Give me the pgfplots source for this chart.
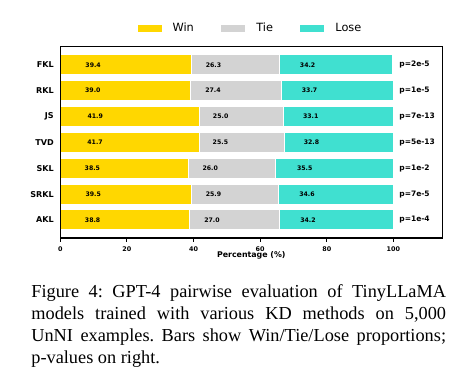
\documentclass[border=0pt]{standalone}
\usepackage{fontspec}
\setmainfont{Liberation Serif}
\newfontfamily\dejavu{DejaVu Sans}
\usepackage{pgfplots}
\usepackage{pgfplotstable}
\pgfplotsset{compat=1.18}
\definecolor{cwin}{HTML}{FFD700}
\definecolor{ctie}{HTML}{D3D3D3}
\definecolor{clos}{HTML}{40E0D0}
\pgfplotstableread{
idx name win tie lose
0 FKL 39.4 26.3 34.2
1 RKL 39.0 27.4 33.7
2 JS 41.9 25.0 33.1
3 TVD 41.7 25.5 32.8
4 SKL 38.5 26.0 35.5
5 SRKL 39.5 25.9 34.6
6 AKL 38.8 27.0 34.2
}\data
\newcommand{\barfont}{\dejavu\bfseries\fontsize{3.4}{4}\selectfont}
\newcommand{\pfont}{\dejavu\bfseries\fontsize{4.1}{5}\selectfont}
\begin{document}
\begin{tikzpicture}
\path[use as bounding box] (0,0) rectangle (256.27pt,209.84pt);
\begin{axis}[
  at={(32.95pt,79.78pt)}, anchor=south west,
  scale only axis, width=208.74pt, height=104.54pt,
  xbar stacked, bar width=0.775,
  xmin=0, xmax=114.7, ymin=-0.7, ymax=6.7, y dir=reverse,
  ytick={0,...,6}, yticklabels={FKL,RKL,JS,TVD,SKL,SRKL,AKL},
  xtick={0,20,...,100},
  /pgf/number format/assume math mode=true,
  axis line style={black, line width=0.6pt},
  axis on top,
  xtick pos=left, ytick pos=left,
  tick align=outside, major tick length=2pt,
  xtick style={black, line width=0.5pt},
  ytick style={draw=none},
  xticklabel style={font=\dejavu\bfseries\fontsize{3.5}{4}\selectfont, anchor=base, inner sep=0pt, yshift=-5.6pt},
  yticklabel style={font=\dejavu\bfseries\fontsize{4.4}{5}\selectfont, anchor=east, inner sep=0pt, xshift=-1.4pt},
  xlabel={Percentage (\%)},
  every axis x label/.style={at={(axis description cs:0.5,0)}, anchor=base, yshift=-10.5pt, font=\dejavu\bfseries\fontsize{4.3}{5}\selectfont, inner sep=0pt},
  legend columns=3,
  legend style={draw=none, fill=none, at={(0.5,1.093)}, anchor=center,
    font=\dejavu\fontsize{6.2}{7}\selectfont,
    /tikz/every odd column/.append style={column sep=4pt},
    /tikz/every even column/.append style={column sep=13pt}},
  legend image code/.code={\fill[#1, draw=none] (0pt,-1.9pt) rectangle (13.1pt,1.9pt);},
  nodes near coords={\pgfmathprintnumber[fixed,fixed zerofill,precision=1]{\pgfplotspointmeta}},
  point meta=explicit,
]
\addplot[fill=cwin, draw=white, line width=0.6pt,
  visualization depends on={0.25*\thisrow{win} \as \segw},
  every node near coord/.style={font=\barfont, anchor=center, shift={(axis direction cs:-\segw,0)}}]
  table[x=win, y=idx, meta=win] {\data};
\addlegendentry{Win}
\addplot[fill=ctie, draw=white, line width=0.6pt,
  visualization depends on={0.25*\thisrow{tie} \as \segw},
  every node near coord/.style={font=\barfont, anchor=center, shift={(axis direction cs:-\segw,0)}}]
  table[x=tie, y=idx, meta=tie] {\data};
\addlegendentry{Tie}
\addplot[fill=clos, draw=white, line width=0.6pt,
  visualization depends on={0.25*\thisrow{lose} \as \segw},
  every node near coord/.style={font=\barfont, anchor=center, shift={(axis direction cs:-\segw,0)}}]
  table[x=lose, y=idx, meta=lose] {\data};
\addlegendentry{Lose}
\node[anchor=west, font=\pfont, inner sep=0pt] at (axis cs:101.7,0) {p=2e-5};
\node[anchor=west, font=\pfont, inner sep=0pt] at (axis cs:101.7,1) {p=1e-5};
\node[anchor=west, font=\pfont, inner sep=0pt] at (axis cs:101.7,2) {p=7e-13};
\node[anchor=west, font=\pfont, inner sep=0pt] at (axis cs:101.7,3) {p=5e-13};
\node[anchor=west, font=\pfont, inner sep=0pt] at (axis cs:101.7,4) {p=1e-2};
\node[anchor=west, font=\pfont, inner sep=0pt] at (axis cs:101.7,5) {p=7e-5};
\node[anchor=west, font=\pfont, inner sep=0pt] at (axis cs:101.7,6) {p=1e-4};
\end{axis}
\node[anchor=base west, inner sep=0pt] at (16.94pt,47.38pt) {\parbox[t]{226.6pt}{\frenchspacing\fontsize{10}{12}\selectfont Figure 4: GPT-4 pairwise evaluation of TinyLLaMA\linebreak models trained with various KD methods on 5,000\linebreak UnNI examples. Bars show Win/Tie/Lose proportions;\linebreak p-values on right.}};
\end{tikzpicture}
\end{document}
